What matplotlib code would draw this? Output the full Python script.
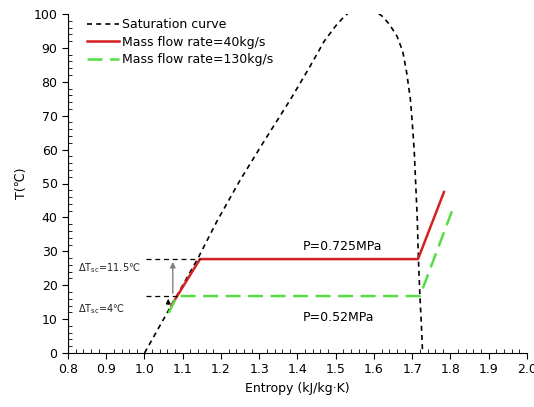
import matplotlib
matplotlib.use("Agg")
import matplotlib.pyplot as plt
from matplotlib.ticker import AutoMinorLocator

# saturation dome (entropy kJ/kg.K, temperature C)
sat_s = [1.000, 1.035, 1.070, 1.105, 1.140, 1.190, 1.250, 1.310, 1.380, 1.430, 1.470,
         1.500, 1.520, 1.540, 1.560, 1.580, 1.600, 1.620, 1.640, 1.660, 1.675, 1.685,
         1.695, 1.700, 1.705, 1.709, 1.713, 1.716, 1.720, 1.724, 1.727]
sat_t = [0, 7, 14, 21, 28, 39, 51, 62, 74.5, 84, 92,
         96.5, 99, 101, 102, 102, 101, 99.5, 97, 93.5, 89, 83,
         75, 68, 60, 50, 40, 28, 17, 8, 0]

# process lines
red_s = [1.07, 1.145, 1.715, 1.783]
red_t = [14, 27.7, 27.7, 47.5]
green_s = [1.063, 1.085, 1.72, 1.807]
green_t = [11.8, 16.8, 16.8, 42.8]

t_high = 27.7
t_low = 16.8
t_start = 13.5

fig = plt.figure(figsize=(5.34, 4.07), dpi=100)
ax = fig.add_axes([68 / 534, 54 / 407, 459 / 534, 339 / 407])

ax.plot(sat_s, sat_t, color="black", linestyle=(0, (3, 2.5)), lw=1.2, label="Saturation curve")
ax.plot(red_s, red_t, color="#d42020", lw=1.8, label="Mass flow rate=40kg/s")
ax.plot(green_s, green_t, color="#55dd44", lw=1.8, linestyle=(0, (6, 3)), label="Mass flow rate=130kg/s")

# delta T markers
ax.plot([1.005, 1.145], [t_high, t_high], color="black", lw=0.9, linestyle=(0, (4, 3)))
ax.plot([1.005, 1.085], [t_low, t_low], color="black", lw=0.9, linestyle=(0, (4, 3)))
ax.annotate("", xy=(1.074, t_high), xytext=(1.074, t_low),
            arrowprops=dict(arrowstyle="-|>", color="gray", lw=1.0, mutation_scale=8))
ax.annotate("", xy=(1.062, t_low), xytext=(1.062, t_start),
            arrowprops=dict(arrowstyle="-|>", color="black", lw=0.8, mutation_scale=7))
ax.text(0.826, 25, r"$\Delta$T$_{\mathregular{sc}}$=11.5℃", fontsize=7, va="center", color="#222222")
ax.text(0.826, 13, r"$\Delta$T$_{\mathregular{sc}}$=4℃", fontsize=7, va="center", color="#222222")

ax.text(1.414, 31.5, "P=0.725MPa", fontsize=9, va="center")
ax.text(1.414, 10.6, "P=0.52MPa", fontsize=9, va="center")

ax.set_xlim(0.8, 2.0)
ax.set_ylim(0, 100)
ax.set_xticks([0.8 + 0.1 * i for i in range(13)])
ax.set_xticklabels(["%.1f" % (0.8 + 0.1 * i) for i in range(13)])
ax.set_yticks(range(0, 101, 10))
ax.xaxis.set_minor_locator(AutoMinorLocator(5))
ax.yaxis.set_minor_locator(AutoMinorLocator(5))
ax.tick_params(which="major", direction="out", length=4, labelsize=9)
ax.tick_params(which="minor", direction="in", length=3)
ax.spines["top"].set_visible(False)
ax.spines["right"].set_visible(False)

ax.set_xlabel("Entropy (kJ/kg·K)", fontsize=9)
ax.set_ylabel("T(℃)", fontsize=9)

ax.legend(loc="upper left", bbox_to_anchor=(0.03, 1.002), frameon=False, fontsize=9,
          handlelength=2.6, handletextpad=0.2, labelspacing=0.35, borderaxespad=0)

fig.savefig("out.png", dpi=100)
